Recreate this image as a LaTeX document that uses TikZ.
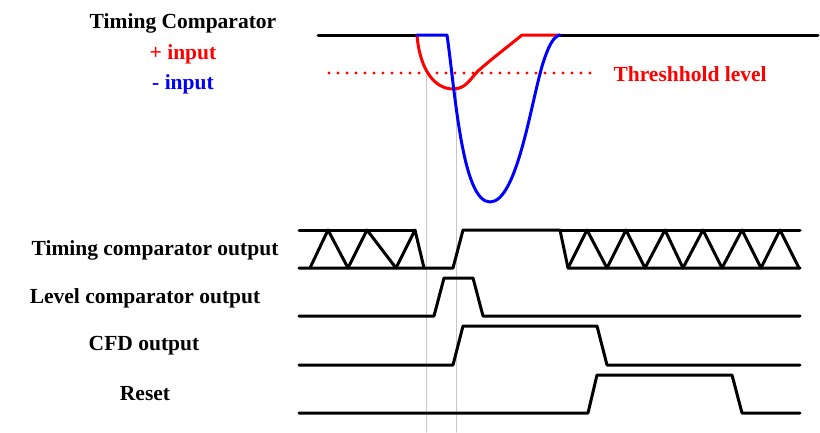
\documentclass[tikz,border=0pt]{standalone}
\usepackage{fontspec}
\setmainfont{Liberation Serif}
\begin{document}
\begin{tikzpicture}[x=1pt,y=-1pt,line join=round,line cap=round]
	\tikzset{every node/.style={font=\fontsize{21.5}{24}\selectfont\bfseries},
		sig/.style={line width=3pt,black},
		guide/.style={line width=1pt,black!22}}
	\useasboundingbox (0,0) rectangle (820,432);
	% guide lines
	\draw[guide] (426,75)--(426,432);
	\draw[guide] (456,86)--(456,432);
	% labels
	\node (tc) at (183,23) {Timing Comparator};
	\node[text=red] (pin) at (183,54) {+ input};
	\node[text=blue] (min) at (183,84) {- input};
	\node[text=red,anchor=west] (thr) at (610,74) {Threshhold level};
	\node (tco) at (155,250) {Timing comparator output};
	\node (lco) at (145,298) {Level comparator output};
	\node (cfd) at (144,346) {CFD output};
	\node (rst) at (145,394) {Reset};
	% comparator inputs
	\draw[sig] (318,35)--(417,35);
	\draw[sig] (560,35)--(818,35);
	\draw[red,line width=3.2pt,dash pattern=on 0pt off 9pt] (329,73)--(596,73);
	\draw[sig,red] (417,35) .. controls (420,72) and (436,89) .. (453,89)
		.. controls (466,89) and (470,79) .. (478,71)
		.. controls (495,56) and (510,45) .. (522,35) -- (560,35);
	\draw[sig,blue] (417,35)--(447,35) .. controls (455,90) and (462,202) .. (490,202)
		.. controls (518,202) and (532,95) .. (544,60)
		.. controls (549,45) and (554,36) .. (560,35);
	% timing comparator output
	\draw[sig] (299,230)--(415,230);
	\draw[sig] (299,268)--(453,268)--(463,230)--(560,230)--(568,268)--(800,268);
	\draw[sig] (560,230)--(800,230);
	\draw[sig] (310,268)--(328,230)--(348,268)--(367,230)--(396,268)--(415,230)--(424,268);
	\foreach \a/\b/\c in {568/587/607,607/626/645,645/665/683,683/703/722,722/742/761,761/780/799}
		\draw[sig] (\a,268)--(\b,230)--(\c,268);
	% level comparator output
	\draw[sig] (299,316)--(434,316)--(444,278)--(473,278)--(483,316)--(800,316);
	% CFD output
	\draw[sig] (299,365)--(453,365)--(463,326)--(597,326)--(607,365)--(800,365);
	% reset
	\draw[sig] (299,413)--(588,413)--(597,375)--(732,375)--(742,413)--(800,413);
\end{tikzpicture}
\end{document}
